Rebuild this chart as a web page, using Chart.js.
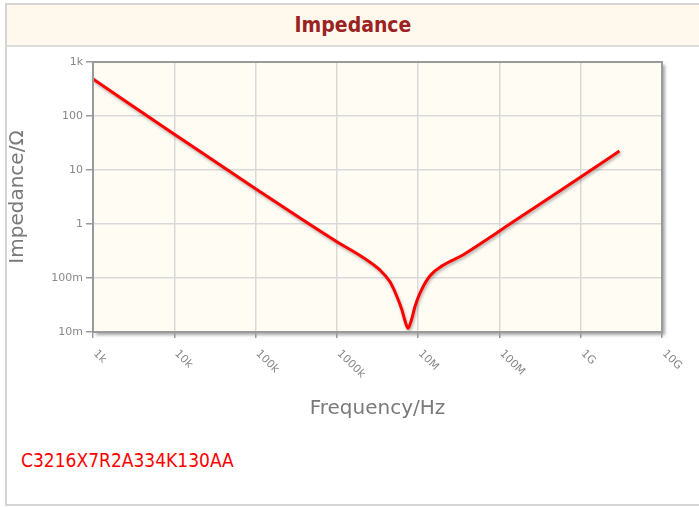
<!DOCTYPE html>
<html>
<head>
<meta charset="utf-8">
<script src="https://cdn.jsdelivr.net/npm/chart.js@4/dist/chart.umd.min.js"></script>
<style>
  html, body { margin: 0; padding: 0; background: #ffffff; width: 699px; height: 507px; overflow: hidden; }
  #frame { position: absolute; left: 5px; top: 3px; width: 700px; height: 499px;
           border-left: 2px solid #d4d4d4; border-top: 2px solid #d4d4d4; border-bottom: 2px solid #d4d4d4; }
  #band { position: absolute; left: 7px; top: 5px; width: 692px; height: 40px; background: #fef9ec;
          border-bottom: 2px solid #dcdcdc; }
  #title { position: absolute; left: 7px; top: 5px; width: 692px; height: 40px; line-height: 40px; text-align: center;
           font-family: "DejaVu Sans Condensed", "DejaVu Sans", sans-serif; font-stretch: condensed; font-weight: bold;
           font-size: 21px; color: #9b2223; }
  #chartBox { position: absolute; left: 0; top: 46px; width: 699px; height: 394px; }
  #part { position: absolute; left: 21px; top: 449px; font-family: "DejaVu Sans Condensed", "DejaVu Sans", sans-serif;
          font-stretch: condensed; font-size: 19px; color: #ff0000; }
</style>
</head>
<body>
<div id="frame"></div>
<div id="band"></div>
<div id="title">Impedance</div>
<div id="chartBox"><canvas id="c" width="699" height="394"></canvas></div>
<div id="part">C3216X7R2A334K130AA</div>
<script>
// ---- data ----
const freqHz = [1e3, 1e4, 1e5, 1e6, 2.1e6, 3.4e6, 4.5e6, 5.4e6, 6.3e6, 6.9e6, 7.5e6, 8.3e6, 9.1e6, 1.05e7, 1.4e7, 2.0e7, 3.6e7, 7.6e7, 1.34e8, 1e9, 3e9];
const impedanceOhm = [484, 46, 4.5, 0.47, 0.24, 0.14, 0.085, 0.048, 0.026, 0.016, 0.0117, 0.017, 0.029, 0.052, 0.11, 0.17, 0.27, 0.56, 1.0, 7.4, 22.5];
const xTickValues = [1e3, 1e4, 1e5, 1e6, 1e7, 1e8, 1e9, 1e10];
const xTickLabels = ['1k', '10k', '100k', '1000k', '10M', '100M', '1G', '10G'];
const yTickValues = [0.01, 0.1, 1, 10, 100, 1000];
const yTickLabels = ['10m', '100m', '1', '10', '100', '1k'];

const points = freqHz.map((f, i) => ({ x: f, y: impedanceOhm[i] }));

const plotDecor = {
  id: 'plotDecor',
  beforeDraw(chart) {
    const { ctx, chartArea: a } = chart;
    ctx.save();
    ctx.shadowColor = 'rgba(0,0,0,0.35)';
    ctx.shadowOffsetX = 3;
    ctx.shadowOffsetY = 3;
    ctx.shadowBlur = 3;
    ctx.fillStyle = '#fffcf4';
    ctx.fillRect(a.left, a.top, a.right - a.left, a.bottom - a.top);
    ctx.restore();
  },
  beforeDatasetsDraw(chart) {
    const ctx = chart.ctx;
    ctx.save();
    ctx.shadowColor = 'rgba(0,0,0,0.3)';
    ctx.shadowOffsetX = 1;
    ctx.shadowOffsetY = 2;
    ctx.shadowBlur = 3;
  },
  afterDatasetsDraw(chart) {
    chart.ctx.restore();
  },
  afterDraw(chart) {
    const { ctx, chartArea: a } = chart;
    const xs = chart.scales.x;
    ctx.save();
    ctx.strokeStyle = '#9a9a9a';
    ctx.lineWidth = 2;
    ctx.strokeRect(a.left, a.top, a.right - a.left, a.bottom - a.top);
    ctx.font = '11px "DejaVu Sans", sans-serif';
    ctx.fillStyle = '#888888';
    ctx.textAlign = 'left';
    ctx.textBaseline = 'middle';
    xTickValues.forEach((v, i) => {
      const px = xs.getPixelForValue(v);
      ctx.save();
      ctx.translate(px + 2, a.bottom + 20);
      ctx.rotate(Math.PI / 4);
      ctx.fillText(xTickLabels[i], 0, 0);
      ctx.restore();
    });
    ctx.restore();
  }
};

new Chart(document.getElementById('c'), {
  type: 'line',
  data: {
    datasets: [{
      data: points,
      borderColor: '#ff0000',
      borderWidth: 3,
      pointRadius: 0,
      fill: false,
      cubicInterpolationMode: 'monotone'
    }]
  },
  options: {
    responsive: false,
    animation: false,
    devicePixelRatio: 1,
    layout: { padding: { left: 0, right: 37, top: 16, bottom: 0 } },
    plugins: { legend: { display: false }, tooltip: { enabled: false }, title: { display: false } },
    scales: {
      x: {
        type: 'logarithmic',
        min: 1e3,
        max: 1e10,
        afterBuildTicks: s => { s.ticks = xTickValues.map(v => ({ value: v })); },
        afterFit: s => { s.height = 108; },
        ticks: { display: false },
        grid: { color: '#d9d9d9', lineWidth: 1.5, drawTicks: true, tickLength: 6, tickColor: '#9a9a9a' },
        border: { color: '#9a9a9a', width: 2 },
        title: { display: true, text: 'Frequency/Hz', color: '#7a7a7a',
                 font: { family: '"DejaVu Sans", sans-serif', size: 20 }, padding: { top: 0, bottom: 19 } }
      },
      y: {
        type: 'logarithmic',
        min: 0.01,
        max: 1000,
        afterBuildTicks: s => { s.ticks = yTickValues.map(v => ({ value: v })); },
        afterFit: s => { s.width = 93; },
        ticks: {
          callback: (v, i) => yTickLabels[i],
          font: { family: '"DejaVu Sans", sans-serif', size: 11 },
          color: '#888888',
          padding: 3
        },
        grid: { color: '#d9d9d9', lineWidth: 1.5, drawTicks: true, tickLength: 7, tickColor: '#9a9a9a' },
        border: { color: '#9a9a9a', width: 2 },
        title: { display: true, text: 'Impedance/Ω', color: '#7a7a7a',
                 font: { family: '"DejaVu Sans", sans-serif', size: 20 }, padding: { top: 6, bottom: 0 } }
      }
    }
  },
  plugins: [plotDecor]
});
</script>
</body>
</html>
